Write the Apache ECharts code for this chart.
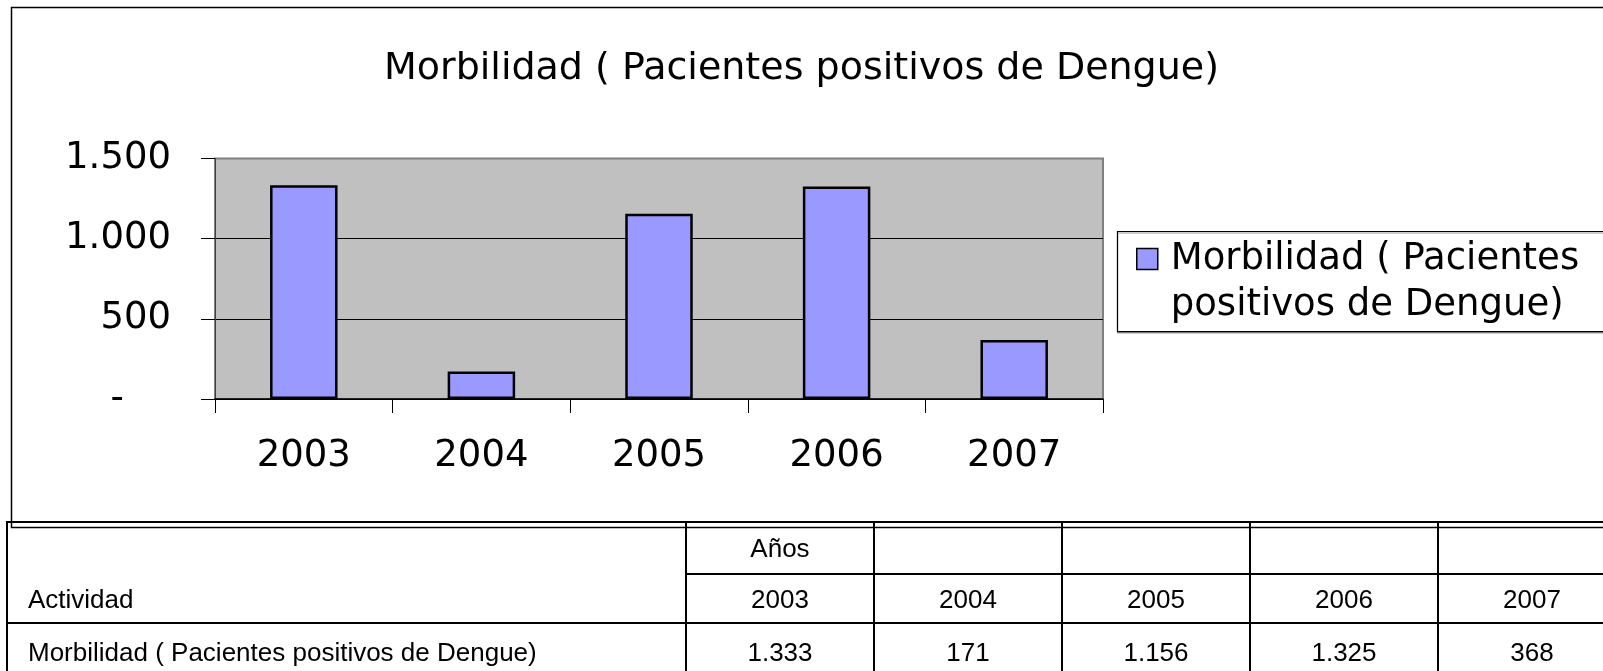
<!DOCTYPE html>
<html><head><meta charset="utf-8">
<script src="https://cdn.jsdelivr.net/npm/echarts@6/dist/echarts.min.js"></script>
<style>
html,body{margin:0;padding:0;background:#fff;width:1603px;height:671px;overflow:hidden;position:relative}
#chart{position:absolute;left:0;top:0;width:1603px;height:671px}
.tl{position:absolute;background:#000}
.tt{position:absolute;font-family:'Liberation Sans',Arial,sans-serif;font-size:26px;color:#000;line-height:30px;height:30px;white-space:nowrap}
</style></head><body>
<div id="chart"></div>
<div id="table"></div>
<script>
const chartTitle = 'Morbilidad ( Pacientes positivos de Dengue)';
const seriesName = 'Morbilidad ( Pacientes positivos de Dengue)';
const years = ['2003', '2004', '2005', '2006', '2007'];
const morbilidad = [1333, 171, 1156, 1325, 368];
const yMin = 0, yMax = 1500, yInterval = 500;
const tableTopHeader = 'Años';
const tableRowHeader = 'Actividad';

function fmt(v) { return String(v).replace(/\B(?=(\d{3})+(?!\d))/g, '.'); }

const chart = echarts.init(document.getElementById('chart'), null, {renderer: 'canvas'});
const chartFont = 'DejaVu Sans';
chart.setOption({
  animation: false,
  backgroundColor: '#fff',
  title: {
    text: chartTitle, left: 'center', top: 45,
    textStyle: {fontFamily: chartFont, fontSize: 38, fontWeight: 'normal', color: '#000'}
  },
  graphic: [
    {type: 'rect', z: 0, silent: true, shape: {x: 11.5, y: 7.5, width: 1700, height: 520}, style: {fill: 'none', stroke: '#000', lineWidth: 1.5}},
    {type: 'rect', z: 1, silent: true, shape: {x: 1117.5, y: 231.5, width: 600, height: 100}, style: {fill: '#fff', stroke: '#000', lineWidth: 1.2, shadowColor: 'rgba(0,0,0,0.4)', shadowOffsetY: 1.5}}
  ],
  legend: {
    left: 1136, top: 190, padding: 0, z: 5,
    icon: 'rect',
    itemWidth: 21, itemHeight: 21,
    itemStyle: {borderWidth: 1.5, borderColor: '#000'},
    formatter: function (name) { return '\n' + name.replace(' positivos', '\npositivos'); },
    textStyle: {fontFamily: chartFont, fontSize: 37, lineHeight: 46, color: '#000', padding: [0, 0, 0, 8]}
  },
  grid: {
    left: 215, right: 500, top: 158.5, bottom: 272,
    show: true, backgroundColor: '#C0C0C0', borderColor: '#808080', borderWidth: 2
  },
  xAxis: {
    type: 'category', data: years,
    axisLine: {show: true, lineStyle: {color: '#000', width: 1.5}},
    axisTick: {show: true, length: 14, lineStyle: {color: '#000', width: 1}},
    axisLabel: {fontFamily: chartFont, fontSize: 37, color: '#000', margin: 39}
  },
  yAxis: {
    type: 'value', min: yMin, max: yMax, interval: yInterval,
    axisLine: {show: true, lineStyle: {color: '#404040', width: 1}},
    axisTick: {show: true, length: 14, lineStyle: {color: '#000', width: 1}},
    axisLabel: {
      fontFamily: chartFont, fontSize: 37, color: '#000', margin: 44,
      formatter: function (v) { return v === 0 ? '-    ' : fmt(v); }
    },
    splitLine: {show: true, lineStyle: {color: ['#000', '#000', '#000', '#808080'], width: 1}}
  },
  series: [{
    name: seriesName, type: 'bar', data: morbilidad, barWidth: '38%',
    itemStyle: {color: '#9999FF', borderColor: '#000', borderWidth: 2.5}
  }]
});

// Data table below the chart
(function () {
  const root = document.getElementById('table');
  function line(x, y, w, h) {
    const d = document.createElement('div'); d.className = 'tl';
    d.style.left = x + 'px'; d.style.top = y + 'px'; d.style.width = w + 'px'; d.style.height = h + 'px';
    root.appendChild(d);
  }
  function text(t, x, w, cy, align) {
    const d = document.createElement('div'); d.className = 'tt';
    d.textContent = t;
    d.style.left = x + 'px'; d.style.width = w + 'px'; d.style.top = (cy - 15) + 'px';
    d.style.textAlign = align;
    root.appendChild(d);
  }
  const colEdges = [7, 686];
  for (let i = 0; i < years.length; i++) colEdges.push(686 + 188 * (i + 1));
  const rowTop = 521, row2 = 573, row3 = 622, tableBottom = 700;
  line(7, rowTop, 1700, 2);
  line(686, row2, 1700, 2);
  line(7, row3, 1700, 2);
  for (let i = 0; i < colEdges.length; i++) line(colEdges[i] - 1, rowTop, 2, tableBottom - rowTop);
  const c1 = (rowTop + row2) / 2 + 1, c2 = (row2 + row3) / 2 + 1, c3 = 652;
  text(tableTopHeader, colEdges[1], 188, c1, 'center');
  text(tableRowHeader, 28, 600, c2, 'left');
  text(seriesName, 28, 640, c3, 'left');
  for (let i = 0; i < years.length; i++) {
    text(years[i], colEdges[i + 1], 188, c2, 'center');
    text(fmt(morbilidad[i]), colEdges[i + 1], 188, c3, 'center');
  }
})();
</script>
</body></html>
